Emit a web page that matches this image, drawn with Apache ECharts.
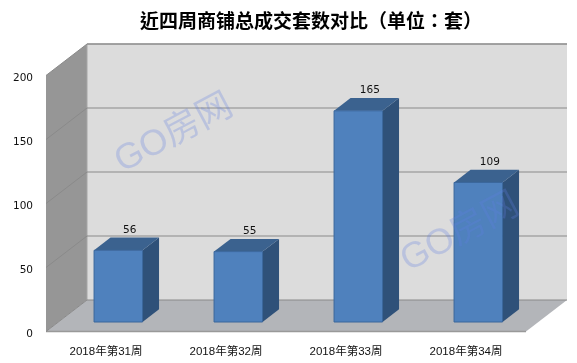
<!DOCTYPE html>
<html><head><meta charset="utf-8">
<style>html,body{margin:0;padding:0;background:#fff}#c{width:577px;height:363px}</style>
<script src="https://cdn.jsdelivr.net/npm/echarts@6/dist/echarts.min.js"></script>
</head><body><div id="c"></div>
<script>
const categories = ['2018年第31周','2018年第32周','2018年第33周','2018年第34周'];
const values = [56,55,165,109];
const yTicks = [0,50,100,150,200];
const titleText = '近四周商铺总成交套数对比（单位：套）';
const watermark = 'GO房网';

const DX=41, DY=-31.5;           // full depth of the box
const BX=12.3, BY=-9.5;          // where bars stand within the depth
const BDX=16.5, BDY=-12.7;       // depth of a bar
const BW=48.5;
const numFont='"DejaVu Sans"';
const wmFont='36px "Liberation Sans","Noto Sans CJK SC"';

function pts(a){return {points:a};}
const chart = echarts.init(document.getElementById('c'),null,{renderer:'canvas'});
chart.setOption({
  animation:false,
  backgroundColor:'#fff',
  title:{text:titleText,left:306,top:6,textAlign:'center',
    textStyle:{fontFamily:'"Noto Sans CJK TC"',fontSize:19,fontWeight:'bold',color:'#000'}},
  grid:{left:46,right:51,top:75.5,bottom:31.5},
  xAxis:{type:'category',data:categories,
    axisLine:{show:false},axisTick:{show:false},splitLine:{show:false},
    axisLabel:{margin:15,fontFamily:'"Liberation Sans","Noto Sans CJK SC"',fontSize:11.5,color:'#111',interval:0}},
  yAxis:{type:'value',min:0,max:200,interval:50,
    axisLine:{show:false},axisTick:{show:false},splitLine:{show:false},
    axisLabel:{margin:13,formatter:'{t|{value}}',
      rich:{t:{padding:[5,0,0,0],fontFamily:numFont,fontSize:10.5,color:'#111'}}}},
  series:[
    {type:'custom',silent:true,z:1,data:[[0,0]],clip:false,
     renderItem(p,api){
       const c=p.coordSys,l=c.x,r=c.x+c.width,t=c.y,b=c.y+c.height;
       const sh=(a,fill)=>({type:'polygon',shape:pts(a),style:{fill}});
       return {type:'group',children:[
         sh([[l+DX,t+DY],[r+DX,t+DY],[r+DX,b+DY],[l+DX,b+DY]],'#dcdcdc'),
         sh([[l,t],[l+DX,t+DY],[l+DX,b+DY],[l,b]],'#969696'),
         sh([[l,b],[l+DX,b+DY],[r+DX,b+DY],[r,b]],'#b3b5b9'),
         {type:'line',shape:{x1:l+DX,y1:t+DY,x2:r+DX,y2:t+DY},style:{stroke:'#a6a6a6',lineWidth:1.5}},
         {type:'line',shape:{x1:l+DX,y1:t+DY,x2:l+DX,y2:b+DY},style:{stroke:'#a6a6a6',lineWidth:1}},
         {type:'line',shape:{x1:l,y1:b,x2:r,y2:b},style:{stroke:'#999',lineWidth:1.5}}
       ]};
     }},
    {type:'custom',silent:true,z:2,clip:false,data:yTicks.map(v=>[0,v]),
     renderItem(p,api){
       const c=p.coordSys,l=c.x,r=c.x+c.width;
       const y=api.coord([0,api.value(1)])[1];
       return {type:'group',children:[
         {type:'line',shape:{x1:l,y1:y,x2:l+DX,y2:y+DY},style:{stroke:'#8a8a8a',lineWidth:1}},
         {type:'line',shape:{x1:l+DX,y1:y+DY,x2:r+DX,y2:y+DY},style:{stroke:'#8a8a8a',lineWidth:1.2}}
       ]};
     }},
    {type:'custom',z:3,clip:false,
     data:values.map((v,i)=>[i,v]),
     encode:{x:0,y:1},
     renderItem(p,api){
       const top=api.coord([api.value(0),api.value(1)]);
       const base=api.coord([api.value(0),0]);
       const xl=top[0]+BX-BW/2, xr=xl+BW, yt=top[1]+BY, yb=base[1]+BY;
       return {type:'group',children:[
         {type:'polygon',shape:pts([[xr,yt],[xr+BDX,yt+BDY],[xr+BDX,yb+BDY],[xr,yb]]),style:{fill:'#2f5179'}},
         {type:'polygon',shape:pts([[xl,yt],[xl+BDX,yt+BDY],[xr+BDX,yt+BDY],[xr,yt]]),style:{fill:'#3b628f'}},
         {type:'rect',shape:{x:xl,y:yt,width:BW,height:yb-yt},style:{fill:'#4f81bd',stroke:'#3a669c',lineWidth:1}},
         {type:'text',style:{text:String(api.value(1)),x:top[0]+BX+11.5,y:yt-20.5,align:'center',verticalAlign:'middle',
            font:'10.5px '+numFont,fill:'#111'}}
       ]};
     }}
  ],
  graphic:[
    {type:'text',z:100,x:174,y:134,rotation:28*Math.PI/180,
     style:{text:watermark,align:'center',verticalAlign:'middle',font:wmFont,fill:'rgba(95,125,225,0.27)'}},
    {type:'text',z:100,x:460,y:233,rotation:28*Math.PI/180,
     style:{text:watermark,align:'center',verticalAlign:'middle',font:wmFont,fill:'rgba(95,125,225,0.27)'}}
  ]
});
</script></body></html>
